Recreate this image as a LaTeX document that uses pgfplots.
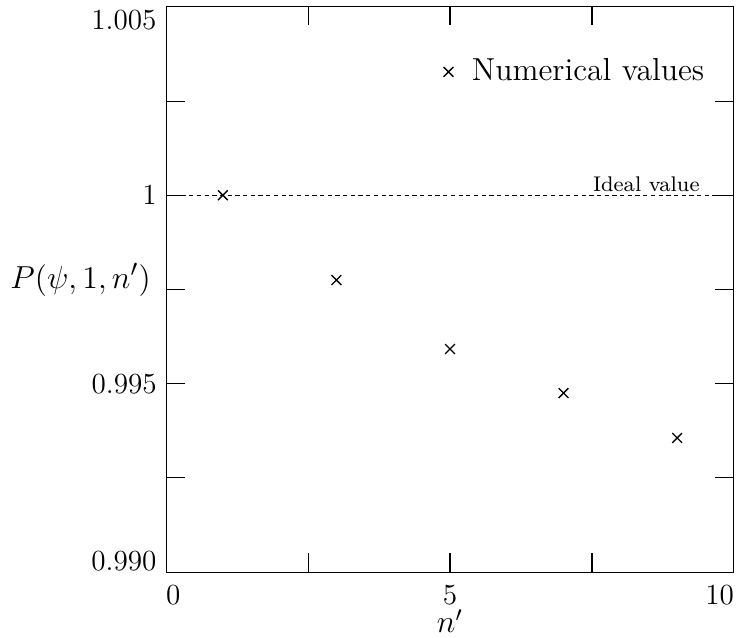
\documentclass[border=0pt]{standalone}
\usepackage{pgfplots}
\pgfplotsset{compat=1.18}
\begin{document}
\begin{tikzpicture}
\begin{axis}[
    scale only axis,
    width=214pt, height=213pt,
    xmin=0, xmax=10,
    ymin=0.990, ymax=1.005,
    xtick={0,5,10},
    xticklabels={\makebox[0pt][l]{0},5,\makebox[0pt][r]{10}},
    minor xtick={2.5,7.5},
    ytick={0.990,0.995,1,1.005},
    yticklabels={,0.995,1,},
    minor ytick={0.9925,0.9975,1.0025},
    tick align=inside,
    major tick length=7pt,
    minor tick length=7pt,
    tick style={thin, black},
    axis line style={thin},
    tick label style={font=\fontsize{11}{13}\selectfont},
    xticklabel style={yshift=-1.5pt},
    xlabel={\fontsize{12}{14}\selectfont $n'$},
    ylabel={\fontsize{12.5}{14}\selectfont $P(\psi,1,n')$},
    ylabel style={rotate=-90, anchor=east, inner sep=0pt, at={(rel axis cs:0,0.517)}, xshift=-5.6pt},
    xlabel style={anchor=base, inner sep=0pt, at={(rel axis cs:0.5,0)}, yshift=-22.8pt},
    legend style={at={(0.972,0.885)}, anchor=east, draw=none, fill=none,
        font=\large},
    legend cell align=left,
    clip=false,
]
\addplot[only marks, mark=x, mark size=2.6pt, black, mark options={line width=0.5pt}] coordinates {
    (1,1.0000)(3,0.99775)(5,0.99592)(7,0.99475)(9,0.99356)
};
\addlegendentry{\hspace{5pt}Numerical values}
\addplot[black, thin, dash pattern=on 1.6pt off 1.3pt, forget plot] coordinates {(0,1)(10,1)};
\node[anchor=south east, font=\footnotesize, inner sep=1pt] at (axis cs:9.45,1) {Ideal value};
\node[anchor=south east, font=\fontsize{11}{13}\selectfont, inner xsep=3.4pt, inner ysep=0pt] at (rel axis cs:0,0) {0.990};
\node[anchor=north east, font=\fontsize{11}{13}\selectfont, inner xsep=3.4pt, inner ysep=0pt, yshift=-1pt] at (rel axis cs:0,1) {1.005};
\end{axis}
\pgfresetboundingbox
\path ([xshift=-62.6pt,yshift=-24.5pt]current axis.south west) rectangle ([xshift=3.8pt,yshift=2.6pt]current axis.north east);
\end{tikzpicture}
\end{document}
